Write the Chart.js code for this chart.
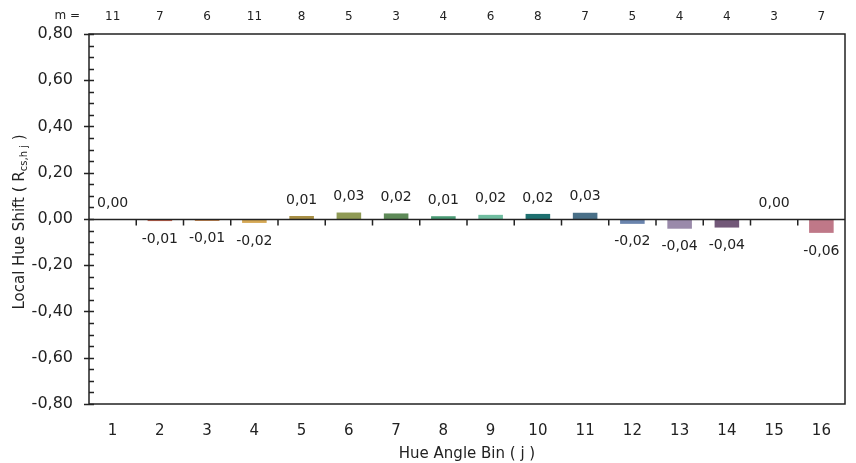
<!DOCTYPE html>
<html>
<head>
<meta charset="utf-8">
<script src="https://cdn.jsdelivr.net/npm/chart.js@4"></script>
<style>
  html, body { margin: 0; padding: 0; background: #fff; }
  #wrap { width: 856px; height: 463px; }
</style>
</head>
<body>
<div id="wrap"><canvas id="hue-chart" width="856" height="463"></canvas></div>
<script>
const bins = ["1", "2", "3", "4", "5", "6", "7", "8", "9", "10", "11", "12", "13", "14", "15", "16"];
const mCounts = [11, 7, 6, 11, 8, 5, 3, 4, 6, 8, 7, 5, 4, 4, 3, 7];
const hueShift = [0.0, -0.009, -0.008, -0.017, 0.013, 0.028, 0.024, 0.012, 0.018, 0.022, 0.027, -0.021, -0.042, -0.037, 0.0, -0.06];
const barColors = [
  "#c85a55", "#c8654f", "#c77a3a", "#d5a855", "#a88f45", "#8f9a55", "#5e8a58", "#4a9a74",
  "#70bda0", "#1e7070", "#4a7088", "#6a84ad", "#9a8aaa", "#725878", "#b07090", "#bf7888"
];
const yTicks = [-0.8, -0.6, -0.4, -0.2, 0, 0.2, 0.4, 0.6, 0.8];

const FONT = "'DejaVu Sans', sans-serif";
const INK = "#222";

function fmt(v) {
  return v.toFixed(2).replace(".", ",");
}

// frame, zero line, tick marks, bar labels, y title, "m =" label
const extras = {
  id: "extras",
  afterDraw(chart) {
    const c = chart.ctx;
    const a = chart.chartArea;
    const x = chart.scales.x;
    const y = chart.scales.y;
    c.save();
    c.strokeStyle = INK;
    c.lineWidth = 1.5;
    c.strokeRect(a.left, a.top, a.right - a.left, a.bottom - a.top);

    // zero line with ticks between bins
    const y0 = Math.round(y.getPixelForValue(0)) + 0.5;
    c.beginPath();
    c.moveTo(a.left, y0);
    c.lineTo(a.right, y0);
    for (let i = 0; i < bins.length - 1; i++) {
      const px = (x.getPixelForValue(i) + x.getPixelForValue(i + 1)) / 2;
      c.moveTo(px, y0);
      c.lineTo(px, y0 + 6);
    }
    c.stroke();

    // y ticks: major cross the axis, minor inside
    c.beginPath();
    for (let v = -0.8; v <= 0.8001; v += 0.05) {
      const py = Math.round(y.getPixelForValue(v)) + 0.5;
      const major = Math.abs(Math.round(v * 100) % 20) === 0;
      c.moveTo(major ? a.left - 5 : a.left, py);
      c.lineTo(a.left + 5, py);
    }
    c.stroke();

    // value labels
    c.fillStyle = INK;
    c.font = "14px " + FONT;
    c.textAlign = "center";
    c.textBaseline = "middle";
    const meta = chart.getDatasetMeta(0);
    meta.data.forEach((bar, i) => {
      const v = hueShift[i];
      const ly = v < 0 ? bar.y + 18 : bar.y - 16;
      c.fillText(fmt(v), bar.x, ly);
    });

    // "m =" label
    c.font = "12px " + FONT;
    c.textAlign = "right";
    c.fillText("m =", 80, 16);

    // y title with subscript
    c.translate(20, (a.top + a.bottom) / 2 + 3);
    c.rotate(-Math.PI / 2);
    const big = "15px " + FONT;
    const small = "10px " + FONT;
    const parts = [
      { t: "Local Hue Shift ( R", f: big, dy: 0 },
      { t: "cs,h j", f: small, dy: 4 },
      { t: " )", f: big, dy: 0 }
    ];
    let w = 0;
    parts.forEach(p => { c.font = p.f; w += c.measureText(p.t).width; });
    let cx = -w / 2;
    c.textAlign = "left";
    parts.forEach(p => {
      c.font = p.f;
      c.fillText(p.t, cx, p.dy);
      cx += c.measureText(p.t).width;
    });
    c.restore();
  }
};

const ctx = document.getElementById("hue-chart").getContext("2d");
new Chart(ctx, {
  type: "bar",
  data: {
    labels: bins,
    datasets: [{
      data: hueShift,
      backgroundColor: barColors,
      borderWidth: 0,
      barPercentage: 0.52,
      categoryPercentage: 1
    }]
  },
  options: {
    responsive: false,
    animation: false,
    layout: { padding: { right: 11 } },
    plugins: {
      legend: { display: false },
      tooltip: { enabled: false }
    },
    scales: {
      x: {
        position: "bottom",
        grid: { display: false },
        border: { display: false },
        ticks: { color: INK, font: { family: FONT, size: 15 }, padding: 10 },
        title: {
          display: true,
          text: "Hue Angle Bin ( j )",
          color: INK,
          font: { family: FONT, size: 15 },
          padding: { top: 4, bottom: 0 }
        },
        afterFit(s) { s.height = 59; }
      },
      top: {
        type: "category",
        position: "top",
        labels: mCounts.map(String),
        grid: { display: false },
        border: { display: false },
        ticks: { color: INK, font: { family: FONT, size: 12 }, padding: 2 },
        afterFit(s) { s.height = 34; }
      },
      y: {
        min: -0.8,
        max: 0.8,
        afterBuildTicks(s) { s.ticks = yTicks.map(v => ({ value: v })); },
        grid: { display: false },
        border: { display: false },
        ticks: {
          color: INK,
          font: { family: FONT, size: 16 },
          padding: 8,
          callback: v => fmt(v)
        },
        afterFit(s) { s.width = 89; }
      }
    }
  },
  plugins: [extras]
});
</script>
</body>
</html>
